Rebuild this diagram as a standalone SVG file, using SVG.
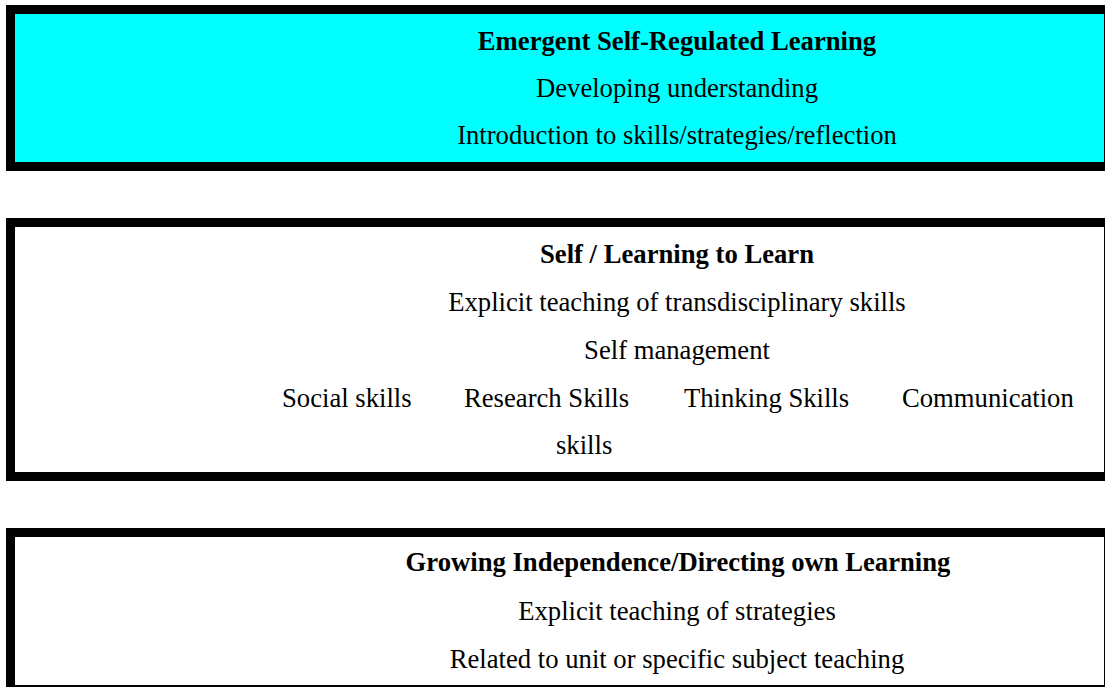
<svg xmlns="http://www.w3.org/2000/svg" width="1105" height="687" viewBox="0 0 1105 687">
<style>
.frame{fill:#000000}
.inner{fill:#ffffff}
.cyan{fill:#00ffff}
text{font-family:"Liberation Serif","Times New Roman",serif;font-size:26.67px;fill:#000000}
.c{text-anchor:middle}
.b{font-weight:bold}
</style>
<rect x="0" y="0" width="1105" height="687" fill="#ffffff"/>
<g id="node-emergent">
<rect class="frame" x="6" y="5" width="1099" height="166"/>
<rect class="cyan" x="15" y="14" width="1089" height="148"/>
<text class="c b" x="677" y="49.5">Emergent Self-Regulated Learning</text>
<text class="c" x="677" y="96.7">Developing understanding</text>
<text class="c" x="677" y="144">Introduction to skills/strategies/reflection</text>
</g>
<g id="node-self">
<rect class="frame" x="6" y="218" width="1099" height="263"/>
<rect class="inner" x="15" y="227" width="1089" height="245"/>
<text class="c b" x="677" y="263">Self / Learning to Learn</text>
<text class="c" x="677" y="311">Explicit teaching of transdisciplinary skills</text>
<text class="c" x="677" y="359">Self management</text>
<text x="282" y="407">Social skills</text>
<text x="464" y="407">Research Skills</text>
<text x="684" y="407">Thinking Skills</text>
<text x="902" y="407">Communication</text>
<text x="556" y="454">skills</text>
</g>
<g id="node-growing">
<rect class="frame" x="6" y="528" width="1099" height="170"/>
<rect class="inner" x="15" y="537" width="1089" height="148"/>
<text class="c b" x="678" y="571">Growing Independence/Directing own Learning</text>
<text class="c" x="677" y="620">Explicit teaching of strategies</text>
<text class="c" x="677" y="668">Related to unit or specific subject teaching</text>
</g>
<g id="connectors"></g>
</svg>
